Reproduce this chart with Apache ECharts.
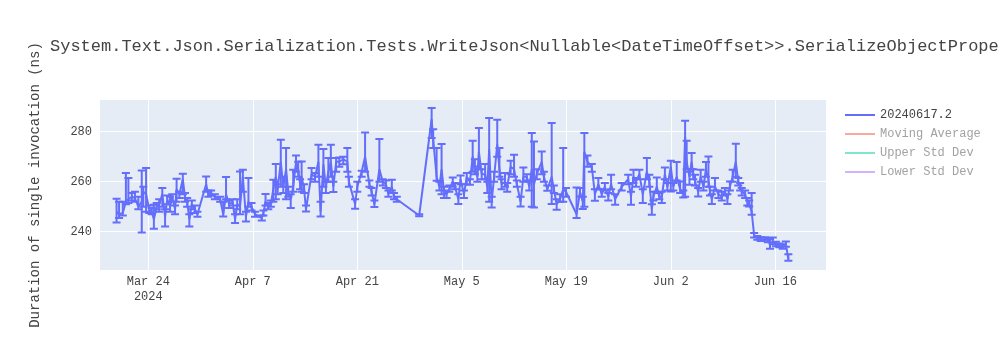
<!DOCTYPE html>
<html>
<head>
<meta charset="utf-8">
<script src="https://cdn.jsdelivr.net/npm/echarts@6/dist/echarts.min.js"></script>
<style>
html,body{margin:0;padding:0;background:#fff;}
#chart{width:1000px;height:350px;}
</style>
</head>
<body>
<div id="chart"></div>
<script>
const titleText = 'System.Text.Json.Serialization.Tests.WriteJson<Nullable<DateTimeOffset>>.SerializeObjectProperty';
const yAxisTitle = 'Duration of single invocation (ns)';
const seriesNames = ['20240617.2', 'Moving Average', 'Upper Std Dev', 'Lower Std Dev'];

const dates = [
'2024-03-19 18:00','2024-03-20 02:00','2024-03-20 14:00','2024-03-21 00:00','2024-03-21 08:00','2024-03-21 19:00','2024-03-22 05:00','2024-03-22 16:00','2024-03-23 03:00','2024-03-23 08:00',
'2024-03-23 17:00','2024-03-24 03:00','2024-03-24 11:00','2024-03-24 18:00','2024-03-25 03:00','2024-03-25 11:00','2024-03-25 21:00','2024-03-26 06:00','2024-03-26 13:00','2024-03-26 22:00',
'2024-03-27 05:00','2024-03-27 14:00','2024-03-27 19:00','2024-03-28 04:00','2024-03-28 15:00','2024-03-28 22:00','2024-03-29 05:00','2024-03-29 12:00','2024-03-29 20:00','2024-03-30 06:00',
'2024-03-30 14:00','2024-03-31 18:00','2024-04-01 01:00','2024-04-01 10:00','2024-04-01 22:00','2024-04-02 15:00','2024-04-03 01:00','2024-04-03 10:00','2024-04-03 20:00','2024-04-04 07:00',
'2024-04-04 15:00','2024-04-04 22:00','2024-04-05 07:00','2024-04-05 16:00','2024-04-06 02:00','2024-04-06 10:00','2024-04-06 20:00','2024-04-07 07:00','2024-04-08 05:00','2024-04-08 10:00',
'2024-04-08 17:00','2024-04-09 02:00','2024-04-09 10:00','2024-04-09 18:00','2024-04-10 02:00','2024-04-10 08:00','2024-04-10 18:00','2024-04-11 02:00','2024-04-11 11:00','2024-04-11 18:00',
'2024-04-12 02:00','2024-04-12 10:00','2024-04-12 19:00','2024-04-13 02:00','2024-04-13 08:00','2024-04-13 13:00','2024-04-13 21:00','2024-04-14 03:00','2024-04-14 21:00','2024-04-15 08:00',
'2024-04-15 19:00','2024-04-16 02:00','2024-04-16 11:00','2024-04-16 19:00','2024-04-17 03:00','2024-04-17 11:00','2024-04-17 19:00','2024-04-18 04:00','2024-04-18 14:00','2024-04-19 03:00',
'2024-04-19 16:00','2024-04-19 21:00','2024-04-20 17:00','2024-04-21 00:00','2024-04-21 14:00','2024-04-22 01:00','2024-04-22 15:00','2024-04-22 22:00','2024-04-23 07:00','2024-04-23 23:00',
'2024-04-24 10:00','2024-04-24 20:00','2024-04-25 04:00','2024-04-25 15:00','2024-04-25 22:00','2024-04-26 07:00','2024-04-29 07:00','2024-04-30 23:00','2024-05-01 04:00','2024-05-01 15:00',
'2024-05-02 00:00','2024-05-02 07:00','2024-05-02 15:00','2024-05-02 23:00','2024-05-03 08:00','2024-05-03 19:00','2024-05-04 02:00','2024-05-04 13:00','2024-05-04 20:00','2024-05-05 07:00',
'2024-05-05 16:00','2024-05-06 02:00','2024-05-06 11:00','2024-05-06 18:00','2024-05-07 02:00','2024-05-07 07:00','2024-05-07 16:00','2024-05-08 03:00','2024-05-08 10:00','2024-05-08 16:00',
'2024-05-09 00:00','2024-05-09 08:00','2024-05-09 18:00','2024-05-10 01:00','2024-05-10 08:00','2024-05-10 19:00','2024-05-11 02:00','2024-05-11 13:00','2024-05-12 00:00','2024-05-12 09:00',
'2024-05-12 21:00','2024-05-13 06:00','2024-05-13 17:00','2024-05-14 01:00','2024-05-14 09:00','2024-05-14 16:00','2024-05-15 01:00','2024-05-15 17:00','2024-05-16 00:00','2024-05-16 11:00',
'2024-05-17 01:00','2024-05-17 08:00','2024-05-17 17:00','2024-05-18 04:00','2024-05-18 14:00','2024-05-18 23:00','2024-05-20 09:00','2024-05-20 20:00','2024-05-21 05:00','2024-05-21 10:00',
'2024-05-21 20:00','2024-05-22 10:00','2024-05-22 20:00','2024-05-23 07:00','2024-05-23 18:00','2024-05-24 04:00','2024-05-24 15:00','2024-05-25 00:00','2024-05-25 13:00','2024-05-26 10:00',
'2024-05-27 07:00','2024-05-27 16:00','2024-05-28 00:00','2024-05-28 08:00','2024-05-28 19:00','2024-05-29 06:00','2024-05-29 19:00','2024-05-30 03:00','2024-05-30 11:00','2024-05-30 16:00',
'2024-05-31 03:00','2024-05-31 11:00','2024-05-31 19:00','2024-06-01 05:00','2024-06-01 13:00','2024-06-02 00:00','2024-06-02 08:00','2024-06-02 19:00','2024-06-03 06:00','2024-06-03 16:00',
'2024-06-03 22:00','2024-06-04 03:00','2024-06-04 12:00','2024-06-04 19:00','2024-06-05 00:00','2024-06-05 06:00','2024-06-05 16:00','2024-06-06 00:00','2024-06-06 09:00','2024-06-06 17:00',
'2024-06-07 01:00','2024-06-07 06:00','2024-06-07 12:00','2024-06-07 22:00','2024-06-08 09:00','2024-06-08 20:00','2024-06-09 06:00','2024-06-09 14:00','2024-06-09 22:00','2024-06-10 07:00',
'2024-06-10 17:00','2024-06-11 01:00','2024-06-11 07:00','2024-06-11 12:00','2024-06-11 23:00','2024-06-12 06:00','2024-06-12 12:00','2024-06-12 20:00','2024-06-13 04:00','2024-06-13 14:00',
'2024-06-14 01:00','2024-06-14 15:00','2024-06-15 00:00','2024-06-15 07:00','2024-06-15 16:00','2024-06-16 02:00','2024-06-16 13:00','2024-06-17 00:00','2024-06-17 10:00','2024-06-17 18:00'
];

const means = [
248,247,247.5,252,253,254,253.5,250,252,256,
255,249,248,245,250,251,255,246,253,250,
254,249,257,255,261,254,252,245,251,249,
247,259,255,255.5,254,253,247,255,251,252,
245,251,250,262,246,252,250,247,245.5,247.5,
252,250,251,257,262,257,268,258,265,256,
253,258,268,265,259,262,257,249,263,262,
268,248,267,258,264,268,258,268,268,269,
268,260,251,258,264,270,259,256,251,265,
260,259,255,258,254,253,246.5,285,277,262,
258,265,256,255,257,260,258,253,261,255,
262,260,270,265,262,272,263,263,258,273,
252,262,275,265,259,260,258,266,265,259,
252,262,262,258,265,259,263,268,262,257,
262,257,251,253,257,256,247,256,252,272,
268,266,255,259,255,258,254,259,253,258,
261,254,262,260,263,255,264,260,249,254,
258,254,254,263,258,266,258,262,257,255,
278,268,262,268,263,260,256,262,258,265,
261,256,253,258,255,254,256,253,258,262,
268,260,258,256,255,252,251,248,238.5,237.5,
237,237,236.5,235,236,235,234.5,234,235,229
];

const lows = [
243.7,245.5,246.5,251,251.5,252.5,252,249,239.7,250,
248,247.5,247,241.2,249,248,250,242.1,251,248,
252,247,252,253.5,255,252,250,242.1,249,247.5,
246,256,254,254.5,253,252,246.1,253,249.5,250.5,
243.5,249,247,256,244.1,250,248.5,246,244.5,246.5,
250.5,249,250,252,253,255,258,255.5,253,254,
249.5,256,264,262,257,256,255.5,248.1,261,260,
262,246.1,258,255.5,260,262,255.9,264,266,267,
264,258,249.2,256,262,264,258,254.5,249.9,260,
258.5,257.5,254,256.5,253,252,246.2,277.5,273.5,260.4,
256.5,255,253.5,253.5,256,258,257,251.1,259,253.5,
259,258.8,264,263,260,265,261,261,255.5,252,
249.7,260,270,262,257,258,256,263,262,258,
250.1,260,260.5,256.5,250,249.7,261,263,260,256.4,
251.1,255.5,248.8,252,252,254,245.5,254.1,249.1,250,
266,264,252.4,257,254,256.5,252.5,257,250.8,256.5,
259,250.8,259.5,258,261,251.5,261,258,246.8,252.5,
256,253,251.5,261,256.5,256.1,256.5,260.5,255.5,253.7,
254,265,258.8,265,261,258.5,254.1,260,256.5,262,
258,254.5,251.1,256.5,253.5,252.5,254.5,251.1,256.5,260,
262,258.5,256.5,254.5,253.5,250.5,250.1,246.8,237.7,236.8,
236.3,236.5,235.8,233.2,235,234.2,233.8,233.2,234,228.4
];

const highs = [
253.2,252,252,263.5,261.5,255.5,256,254,264.5,258,
265.5,250.5,249.5,250.8,251.5,253,257.5,249,254.5,254,
255,250.5,261.2,256,263.2,255.5,253.5,247,252.5,250.5,
248,262.1,256.5,256.5,255,254,252,261.9,252.5,253,
247,253,264.1,264.8,248,261.5,251.5,248,246.5,248.5,
255.1,251.5,252.5,260.8,267.1,259,276.8,262,273.5,258,
255,264.8,270.5,268,261,268.1,259,250.5,265.5,263.5,
274.8,252,273.1,260,269.5,274.8,260,269.5,269.7,270,
273.5,262,253,260,264.4,279.7,260.5,257.5,252.5,277.1,
261,260.5,256.5,260.8,255.5,254,247,289.5,281,273.5,
260,275.1,258,256.5,258.5,261.7,259.5,255,262.5,256.5,
263.5,261,276.4,269,266.1,281.5,265,267.1,260,285.5,
254,264,284.8,273.5,261,263.5,259.5,268.4,270.8,260.5,
254,265.7,263,260,279.5,276.1,265,272.1,264,258.5,
283.5,258.5,253,255,273.5,257.5,257.7,257.5,254,279.5,
270.5,267.1,257,261.5,257,259.5,255.5,262.8,255,259.5,
262.8,256,264.8,261.5,264.8,257,269.5,262.8,251,256,
261.7,255.5,256,265.7,259.5,268.4,259.5,267.9,260.1,256.5,
284.4,276.4,264,271.5,265,262.8,257.5,264.8,260,267.9,
270.1,258,255,261.5,256.5,256,257.5,255,260.1,264.8,
275.2,261.5,259.5,257.5,256.5,253.5,252.5,255.5,239.5,238.3,
237.8,237.8,237.3,237,237.7,236,235.3,235,236.1,231
];

const tickDates = ['2024-03-24','2024-04-07','2024-04-21','2024-05-05','2024-05-19','2024-06-02','2024-06-16'];
const tickLabels = ['Mar 24\n2024','Apr 7','Apr 21','May 5','May 19','Jun 2','Jun 16'];
const yTicks = [240, 260, 280];

function ts(s) {
  const [d, t] = s.split(' ');
  const [Y, M, D] = d.split('-').map(Number);
  let h = 0, m = 0;
  if (t) { [h, m] = t.split(':').map(Number); }
  return Date.UTC(Y, M - 1, D, h, m);
}

const lineData = dates.map((d, i) => [ts(d), means[i]]);
const errData = dates.map((d, i) => [ts(d), lows[i], highs[i]]);
const tickTs = tickDates.map(ts);

const mainColor = '#636efa';
const font = "'Courier New', 'Liberation Mono', monospace";

const chart = echarts.init(document.getElementById('chart'), null, {renderer: 'canvas'});
chart.setOption({
  animation: false,
  backgroundColor: '#fff',
  textStyle: {fontFamily: font},
  title: {
    text: titleText,
    left: 50, top: 38, padding: 0,
    textStyle: {fontFamily: font, fontSize: 17, fontWeight: 'normal', color: '#444'}
  },
  grid: {
    left: 100, right: 174, top: 100, bottom: 80,
    show: true, backgroundColor: '#E5ECF6', borderWidth: 0
  },
  legend: {
    orient: 'vertical',
    left: 845, top: 109, padding: 0,
    itemWidth: 30, itemHeight: 2, itemGap: 7,
    icon: 'rect',
    textStyle: {fontFamily: font, fontSize: 12, color: '#444'},
    data: [
      {name: seriesNames[0]},
      {name: seriesNames[1], textStyle: {color: '#a2a2a2'}},
      {name: seriesNames[2], textStyle: {color: '#a2a2a2'}},
      {name: seriesNames[3], textStyle: {color: '#a2a2a2'}}
    ]
  },
  xAxis: {
    type: 'value',
    min: ts('2024-03-17 12:45'),
    max: ts('2024-06-22 19:00'),
    axisLine: {show: false},
    axisTick: {show: false, customValues: tickTs},
    splitLine: {show: true, lineStyle: {color: '#fff', width: 1}},
    axisLabel: {
      customValues: tickTs,
      margin: 4,
      lineHeight: 15,
      fontFamily: font, fontSize: 12, color: '#444',
      formatter: function (v) {
        const i = tickTs.indexOf(v);
        return i >= 0 ? tickLabels[i] : '';
      }
    }
  },
  yAxis: {
    type: 'value',
    min: 224.7, max: 292.7,
    name: yAxisTitle,
    nameLocation: 'middle',
    nameGap: 58,
    nameTextStyle: {fontFamily: font, fontSize: 14, color: '#444'},
    axisLine: {show: false},
    axisTick: {show: false, customValues: yTicks},
    splitLine: {show: true, lineStyle: {color: '#fff', width: 1}},
    axisLabel: {customValues: yTicks, margin: 8, fontFamily: font, fontSize: 12, color: '#444'}
  },
  series: [
    {
      name: seriesNames[0],
      type: 'line',
      data: lineData,
      showSymbol: false,
      color: mainColor,
      lineStyle: {width: 2, color: mainColor},
      z: 3
    },
    {
      name: seriesNames[0],
      type: 'custom',
      data: errData,
      encode: {x: 0, y: [1, 2]},
      z: 2,
      renderItem: function (params, api) {
        const x = api.value(0);
        const a = api.coord([x, api.value(1)]);
        const b = api.coord([x, api.value(2)]);
        const w = 4;
        const st = {stroke: mainColor, lineWidth: 2};
        return {
          type: 'group',
          children: [
            {type: 'line', shape: {x1: a[0], y1: a[1], x2: b[0], y2: b[1]}, style: st},
            {type: 'line', shape: {x1: a[0] - w, y1: a[1], x2: a[0] + w, y2: a[1]}, style: st},
            {type: 'line', shape: {x1: b[0] - w, y1: b[1], x2: b[0] + w, y2: b[1]}, style: st}
          ]
        };
      }
    },
    {name: seriesNames[1], type: 'line', data: [], color: '#f7aa9d'},
    {name: seriesNames[2], type: 'line', data: [], color: '#80e6cb'},
    {name: seriesNames[3], type: 'line', data: [], color: '#d5b1fd'}
  ]
});
</script>
</body>
</html>
